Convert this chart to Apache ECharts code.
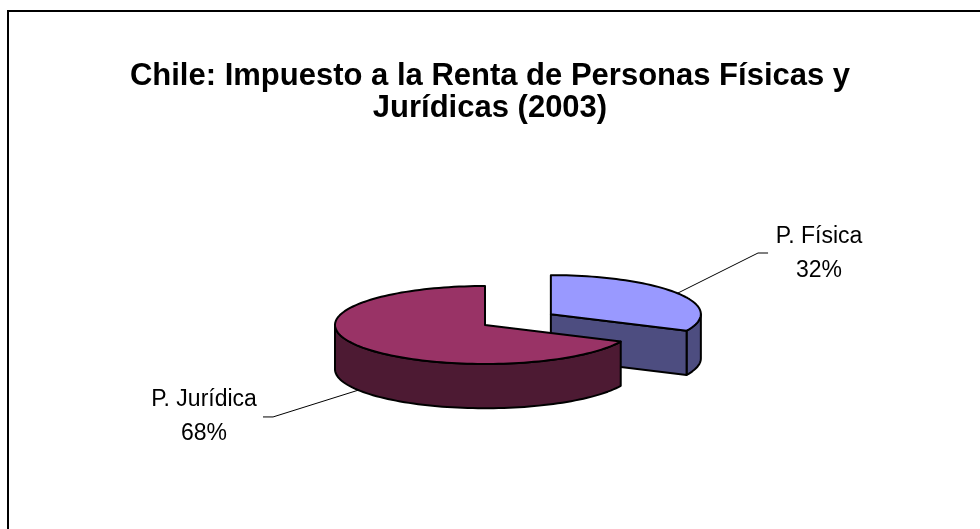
<!DOCTYPE html>
<html>
<head>
<meta charset="utf-8">
<title>Chile: Impuesto a la Renta</title>
<script src="https://cdn.jsdelivr.net/npm/echarts@6/dist/echarts.min.js"></script>
<style>
  html, body { margin: 0; padding: 0; background: #fff; }
  #chart { width: 980px; height: 529px; }
</style>
</head>
<body>
<div id="chart"></div>
<script>
// datos
const categories = ['P. Física', 'P. Jurídica'];
const shares = [32, 68];
const percentLabels = ['32%', '68%'];

// colores estilo Excel (cara superior / lateral)
const topColors = ['#9999ff', '#993366'];
const sideColors = ['#4d4d80', '#4d1a33'];

// geometria del pastel 3D (unidades = radio)
const TILT = 0.26;     // aplastamiento de la elipse
const DEPTH = 0.295;   // grosor
const EXPLODE = [0.52, 0];
// posicion de las etiquetas: codo de la linea y centro del texto
const labelLayout = [
  { knee: [1.82, 0.48], end: [1.887, 0.48], text: [2.227, 0.475] },
  { knee: [-1.413, -0.613], end: [-1.48, -0.613], text: [-1.873, -0.61] }
];

const total = shares.reduce((a, b) => a + b, 0);
// angulos: empieza a las 12 y gira en sentido horario (como Excel)
const slices = [];
let acc = 0;
shares.forEach((v, i) => {
  const startCW = 90 - acc / total * 360;
  acc += v;
  const endCW = 90 - acc / total * 360;
  const a0 = endCW, a1 = startCW; // rango antihorario [a0, a1]
  const mid = (a0 + a1) / 2 * Math.PI / 180;
  slices.push({ i, a0, a1, mid, ox: EXPLODE[i] * Math.cos(mid), oy: EXPLODE[i] * Math.sin(mid) });
});
// de atras hacia adelante
const order = slices.slice().sort((p, q) => Math.sin(q.mid) - Math.sin(p.mid));

const chart = echarts.init(document.getElementById('chart'));

function renderItem(params, api) {
  const s = order[params.dataIndex];
  const rad = d => d * Math.PI / 180;
  const P = (r, deg, z) => api.coord([s.ox + r * Math.cos(rad(deg)), TILT * (s.oy + r * Math.sin(rad(deg))) - z]);
  const arc = (from, to, z) => {
    const n = Math.max(2, Math.ceil(Math.abs(to - from) / 2));
    const pts = [];
    for (let k = 0; k <= n; k++) pts.push(P(1, from + (to - from) * k / n, z));
    return pts;
  };
  const edge = { stroke: '#000', lineWidth: 2, lineJoin: 'round' };
  const children = [];
  // paredes exteriores visibles (parte delantera)
  [[-180, 0], [180, 360]].forEach(([lo, hi]) => {
    const f = Math.max(lo, s.a0), t = Math.min(hi, s.a1);
    if (t > f) {
      const pts = arc(f, t, 0).concat(arc(t, f, DEPTH));
      children.push({ type: 'polygon', shape: { points: pts }, style: Object.assign({ fill: sideColors[s.i] }, edge) });
    }
  });
  // caras de corte que miran al observador
  [[s.a0, Math.cos(rad(s.a0)) > 0.001], [s.a1, Math.cos(rad(s.a1)) < -0.001]].forEach(([a, vis]) => {
    if (!vis) return;
    const pts = [P(0, a, 0), P(1, a, 0), P(1, a, DEPTH), P(0, a, DEPTH)];
    children.push({ type: 'polygon', shape: { points: pts }, style: Object.assign({ fill: sideColors[s.i] }, edge) });
  });
  // cara superior
  const topPts = [P(0, 0, 0)].concat(arc(s.a0, s.a1, 0));
  children.push({ type: 'polygon', shape: { points: topPts }, style: Object.assign({ fill: topColors[s.i] }, edge) });

  // linea guia y etiqueta
  const L = labelLayout[s.i];
  const midDeg = s.mid * 180 / Math.PI;
  const start = Math.sin(s.mid) > 0 ? P(1, midDeg, 0) : P(1, midDeg, DEPTH);
  children.push({
    type: 'polyline',
    shape: { points: [start, api.coord(L.knee), api.coord(L.end)] },
    style: { stroke: '#000', lineWidth: 1, fill: 'none' }
  });
  const tp = api.coord(L.text);
  children.push({
    type: 'text',
    x: tp[0], y: tp[1],
    style: {
      text: categories[s.i] + '\n' + percentLabels[s.i],
      fill: '#000',
      font: '23px "Liberation Sans", Arial, sans-serif',
      lineHeight: 34,
      align: 'center',
      verticalAlign: 'middle'
    }
  });
  return { type: 'group', children };
}

const option = {
  backgroundColor: '#fff',
  animation: false,
  title: {
    text: 'Chile: Impuesto a la Renta de Personas Físicas y\nJurídicas (2003)',
    left: 'center',
    top: 55,
    textStyle: {
      fontFamily: '"Liberation Sans", Arial, sans-serif',
      fontWeight: 'bold',
      fontSize: 31,
      lineHeight: 32,
      color: '#000'
    }
  },
  // rejilla oculta: 1 unidad = 150 px, centro del pastel en (485, 325)
  grid: { left: 0, right: 0, top: 0, bottom: 0 },
  xAxis: { type: 'value', min: -485 / 150, max: 495 / 150, show: false },
  yAxis: { type: 'value', min: -204 / 150, max: 325 / 150, show: false },
  graphic: [{
    type: 'rect',
    shape: { x: 8, y: 11, width: 1000, height: 600 },
    style: { fill: 'none', stroke: '#000', lineWidth: 2 },
    z: 100
  }],
  series: [{
    type: 'custom',
    coordinateSystem: 'cartesian2d',
    renderItem,
    data: order.map(s => [shares[s.i], s.i]),
    encode: { x: -1, y: -1 },
    silent: true
  }]
};
chart.setOption(option);
</script>
</body>
</html>
